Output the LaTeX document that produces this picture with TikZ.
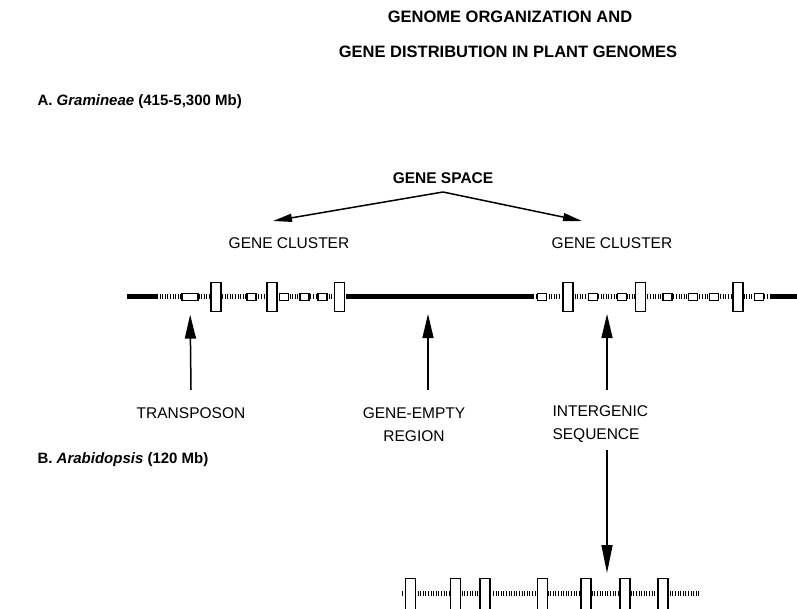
\documentclass[tikz,border=0pt]{standalone}
\usepackage{fontspec}
\setmainfont{Liberation Sans}
\usetikzlibrary{positioning,arrows.meta}

\tikzset{
  genebox/.style={draw,fill=white,line width=1.2pt,minimum width=10pt,minimum height=29pt,inner sep=0pt},
  smallbox/.style={draw,fill=white,line width=1.2pt,minimum width=9pt,minimum height=7pt,inner sep=0pt},
  hatchline/.style={line width=5pt,dash pattern=on 1pt off 1.6pt},
  thickline/.style={line width=5pt},
  txt/.style={font=\fontsize{15.5}{23}\selectfont},
  boldtxt/.style={font=\bfseries\fontsize{15.5}{23}\selectfont},
  titletxt/.style={font=\bfseries\fontsize{16.5}{20}\selectfont},
  parthead/.style={font=\bfseries\fontsize{15}{18}\selectfont,anchor=west},
  uparrow/.style={-{Triangle[length=24pt,width=11pt]},line width=1.5pt},
  downarrow/.style={-{Triangle[length=28pt,width=11pt]},line width=1.5pt},
  spacearrow/.style={-{Triangle[length=19pt,width=8pt]},line width=1.5pt}
}

\begin{document}
\begin{tikzpicture}[x=1pt,y=-1pt]
  \useasboundingbox (0,0) rectangle (797,609);
  % headings
  \node[titletxt] (title1) at (510,17) {GENOME ORGANIZATION AND};
  \node[titletxt] (title2) at (508,52) {GENE DISTRIBUTION IN PLANT GENOMES};
  \node[parthead] (parta) at (34,102) {A. \textit{Gramineae} (415-5,300 Mb)};
  \node[parthead] (partb) at (34,460) {B. \textit{Arabidopsis} (120 Mb)};

  % gene space
  \node[boldtxt] (space) at (443,178) {GENE SPACE};
  \coordinate (apex) at (443,192);
  \coordinate (tipl) at (273,221);
  \coordinate (tipr) at (582,221);
  \draw[spacearrow] (apex) -- (tipl);
  \draw[spacearrow] (apex) -- (tipr);
  \node[txt] (clus1) at (289,243) {GENE CLUSTER};
  \node[txt] (clus2) at (612,243) {GENE CLUSTER};

  % Gramineae chromosome
  \draw[thickline] (127,297) -- (157,297);
  \draw[hatchline] (157,297) -- (346,297);
  \draw[thickline] (346,297) -- (533,297);
  \draw[hatchline] (533,297) -- (770,297);
  \draw[thickline] (770,297) -- (797,297);
  \node[smallbox,minimum width=16pt] (te) at (190,297) {};
  \foreach \x [count=\i] in {251.5,284,304.5,322.5,542,593,622,667.5,693,714,759}
    \node[smallbox] (s\i) at (\x,297) {};
  \foreach \x [count=\i] in {216,272,339.5,568,640.5,738}
    \node[genebox] (g\i) at (\x,297) {};

  % labels below
  \node[txt] (transp) at (191,413) {TRANSPOSON};
  \node[txt,align=center] (empty) at (414,424.5) {GENE-EMPTY\\REGION};
  \node[txt,align=left,anchor=west] (interg) at (549,424.5) {INTERGENIC\\SEQUENCE};
  \coordinate (tail1) at (191,390);
  \coordinate (tail2) at (428,390);
  \coordinate (tip2) at (428,314);
  \coordinate (tail3) at (607,390);
  \coordinate (tip3) at (607,314);
  \draw[uparrow,shorten >=13.5pt] (tail1) -- (te.south);
  \draw[uparrow] (tail2) -- (tip2);
  \draw[uparrow] (tail3) -- (tip3);

  % Arabidopsis chromosome
  \coordinate (top4) at (607,450);
  \coordinate (tip4) at (607,573);
  \draw[downarrow] (top4) -- (tip4);
  \draw[hatchline] (402,593) -- (700,593);
  \foreach \x [count=\i] in {410.5,455.5,485,542.5,586,625,663}
    \node[genebox,minimum height=31pt] (a\i) at (\x,594) {};
\end{tikzpicture}
\end{document}
